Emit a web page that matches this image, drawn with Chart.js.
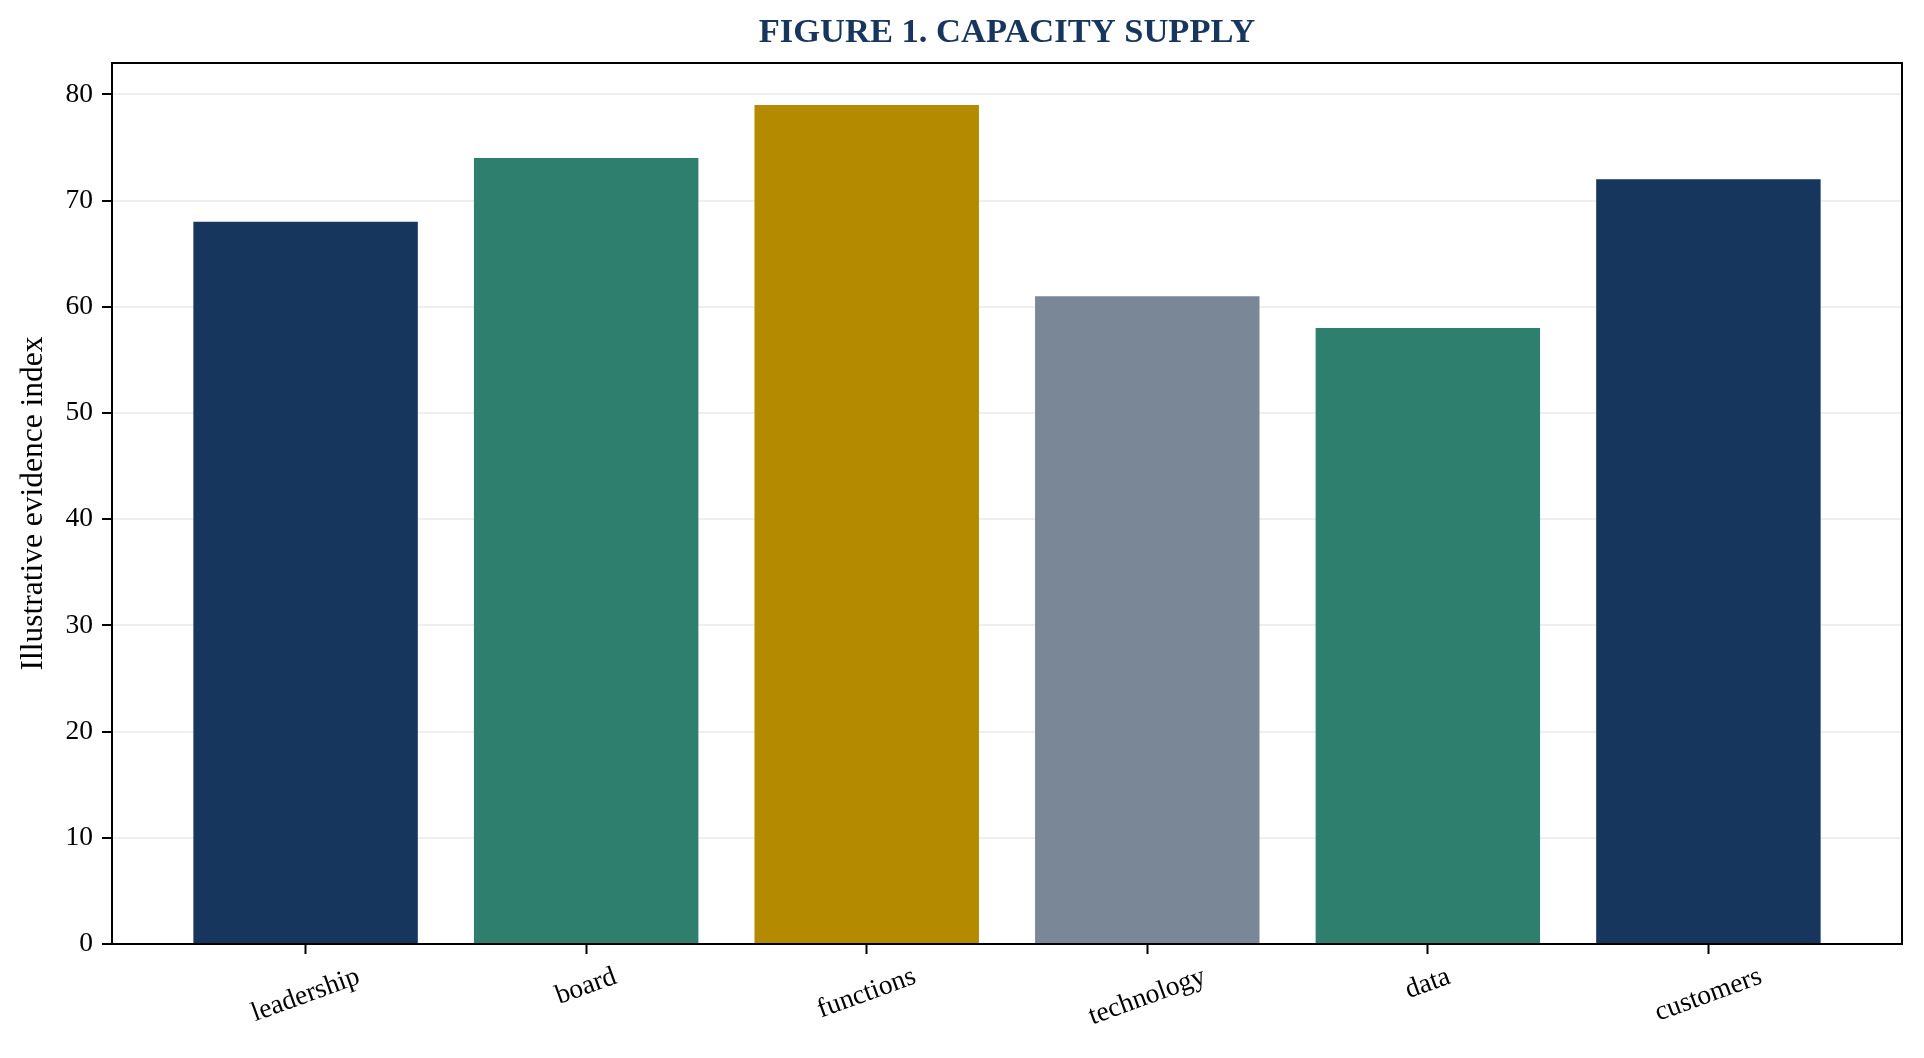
<!DOCTYPE html>
<html>
<head>
<meta charset="utf-8">
<script src="https://cdn.jsdelivr.net/npm/chart.js@4"></script>
<style>
  html, body { margin: 0; padding: 0; background: #ffffff; }
  canvas { display: block; }
</style>
</head>
<body>
<canvas id="capChart" width="1924" height="1058"></canvas>
<script>
// data
const categories = ['leadership', 'board', 'functions', 'technology', 'data', 'customers'];
const values = [68, 74, 79, 61, 58, 72];
const barColors = ['#17365d', '#2e7f6e', '#b38a00', '#7a8797', '#2e7f6e', '#17365d'];
const yTicks = [0, 10, 20, 30, 40, 50, 60, 70, 80];

const serif = "'Liberation Serif', 'Times New Roman', serif";
const navy = '#17365d';

// frame around the plot area
const frame = {
  id: 'frame',
  afterDraw(chart) {
    const a = chart.chartArea, c = chart.ctx;
    c.save();
    c.strokeStyle = '#000';
    c.lineWidth = 2;
    c.strokeRect(a.left, a.top, a.right - a.left, a.bottom - a.top);
    c.restore();
  }
};

// rotated category labels, centred under each tick like matplotlib
const xLabels = {
  id: 'xLabels',
  afterDraw(chart) {
    const xs = chart.scales.x, c = chart.ctx;
    const rot = 20 * Math.PI / 180;
    const size = 27.5;
    c.save();
    c.font = size + 'px ' + serif;
    c.fillStyle = '#000';
    c.textAlign = 'center';
    c.textBaseline = 'middle';
    categories.forEach((lab, i) => {
      const w = c.measureText(lab).width;
      const h = size * 1.0;
      const H = w * Math.sin(rot) + h * Math.cos(rot);
      const cx = xs.getPixelForValue(i);
      const cy = chart.chartArea.bottom + 10 + 9 + H / 2;
      c.save();
      c.translate(cx, cy);
      c.rotate(-rot);
      c.fillText(lab, 0, 0);
      c.restore();
    });
    c.restore();
  }
};

new Chart(document.getElementById('capChart'), {
  type: 'bar',
  data: {
    datasets: [{
      data: values.map((v, i) => ({ x: i, y: v })),
      backgroundColor: barColors,
      borderWidth: 0,
      barPercentage: 0.8,
      categoryPercentage: 1.0
    }]
  },
  options: {
    responsive: false,
    animation: false,
    devicePixelRatio: 1,
    layout: { padding: { left: 0, right: 22, top: 0, bottom: 0 } },
    plugins: {
      legend: { display: false },
      tooltip: { enabled: false },
      title: {
        display: true,
        text: 'FIGURE 1. CAPACITY SUPPLY',
        color: navy,
        fullSize: false,
        font: { family: serif, size: 34.5, weight: 'bold', lineHeight: 1.2 },
        padding: { top: 12, bottom: 9.6 }
      }
    },
    scales: {
      x: {
        type: 'linear',
        min: -0.69,
        max: 5.69,
        offset: false,
        z: 1,
        afterBuildTicks(scale) { scale.ticks = categories.map((_, i) => ({ value: i })); },
        afterFit(scale) { scale.height = 114; scale.paddingLeft = 0; scale.paddingRight = 0; },
        ticks: { display: false },
        grid: {
          display: true,
          offset: false,
          drawOnChartArea: false,
          drawTicks: true,
          tickLength: 10,
          tickWidth: 2,
          tickColor: '#000'
        },
        border: { display: true, color: '#000', width: 2 }
      },
      y: {
        min: 0,
        max: 82.95,
        z: 1,
        afterBuildTicks(scale) { scale.ticks = yTicks.map(v => ({ value: v })); },
        afterFit(scale) { scale.width = 112; },
        ticks: {
          color: '#000',
          padding: 9,
          font: { family: serif, size: 27.5 }
        },
        grid: {
          color: 'rgba(176,176,176,0.2)',
          lineWidth: 2,
          drawTicks: true,
          tickLength: 10,
          tickWidth: 2,
          tickColor: '#000'
        },
        border: { display: true, color: '#000', width: 2 },
        title: {
          display: true,
          text: 'Illustrative evidence index',
          color: '#000',
          font: { family: serif, size: 31.5, lineHeight: 1.2 },
          padding: { top: 15, bottom: 0 }
        }
      }
    }
  },
  plugins: [frame, xLabels]
});
</script>
</body>
</html>
